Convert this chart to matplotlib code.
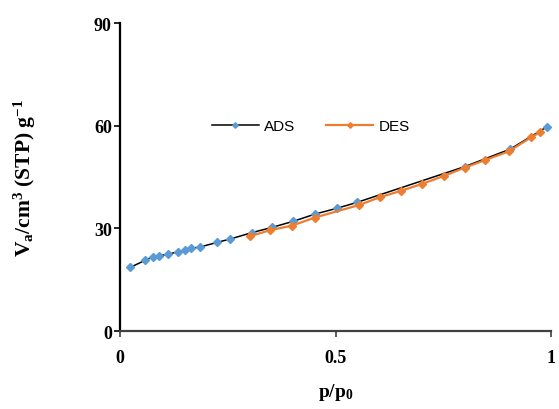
import matplotlib
matplotlib.use('Agg')
import matplotlib.pyplot as plt

plt.rcParams['mathtext.fontset'] = 'custom'
plt.rcParams['mathtext.rm'] = 'Liberation Serif:bold'
plt.rcParams['mathtext.it'] = 'Liberation Serif:bold'
plt.rcParams['mathtext.bf'] = 'Liberation Serif:bold'

# adsorption branch
ads_p = [0.023, 0.058, 0.075, 0.090, 0.112, 0.135, 0.151, 0.165, 0.186, 0.224, 0.255,
         0.306, 0.352, 0.402, 0.452, 0.503, 0.549, 0.800, 0.905, 0.990]
ads_v = [18.6, 20.7, 21.7, 22.0, 22.5, 23.2, 23.7, 24.2, 24.6, 25.9, 26.9,
         28.8, 30.3, 32.1, 34.2, 35.9, 37.6, 48.1, 53.2, 59.7]

# desorption branch
des_p = [0.974, 0.953, 0.901, 0.847, 0.800, 0.752, 0.700, 0.651, 0.602, 0.553,
         0.452, 0.398, 0.348, 0.302]
des_v = [58.1, 56.6, 52.5, 50.0, 47.8, 45.4, 43.0, 41.0, 39.1, 36.8,
         33.2, 30.8, 29.5, 27.8]

blue = '#5B9BD5'
orange = '#ED7D31'

fig = plt.figure(figsize=(5.59, 4.10), dpi=100)
ax = fig.add_axes([0.215, 0.19, 0.771, 0.751])

ax.plot(ads_p, ads_v, color='black', lw=1.1, marker='D', ms=4,
        mfc=blue, mec=blue, label='ADS')
ax.plot(des_p, des_v, color=orange, lw=1.6, marker='D', ms=4,
        mfc=orange, mec=orange, label='DES')

ax.set_xlim(0, 1)
ax.set_ylim(0, 90)
ax.set_xticks([0, 0.5, 1])
ax.set_xticklabels(['0', '0.5', '1'])
ax.set_yticks([0, 30, 60, 90])

for s in ['top', 'right']:
    ax.spines[s].set_visible(False)
ax.spines['left'].set_linewidth(1.6)
ax.spines['left'].set_color('black')
ax.spines['bottom'].set_linewidth(1.6)
ax.spines['bottom'].set_color('#404040')

ax.tick_params(axis='x', direction='out', length=4, width=1.2, pad=9, color='#404040')
ax.tick_params(axis='y', direction='out', length=4, width=1.2, pad=2)
for lab in ax.get_xticklabels() + ax.get_yticklabels():
    lab.set_fontfamily('Liberation Serif')
    lab.set_fontweight('bold')
    lab.set_fontsize(13)

ax.set_xlabel('p/p$_0$', fontfamily='Liberation Serif', fontweight='bold',
              fontsize=14, labelpad=11)
ax.set_ylabel('V$_a$/cm$^3$ (STP) g$^{-1}$', fontfamily='Liberation Serif',
              fontweight='bold', fontsize=15.5, labelpad=40)

fig.legend(loc='center', bbox_to_anchor=(0.556, 0.69), ncol=2, frameon=False,
           prop={'family': 'Liberation Sans', 'size': 11}, handlelength=3.1,
           handletextpad=0.35, columnspacing=2.0, markerscale=0.7)

fig.savefig('out.png', dpi=100)
